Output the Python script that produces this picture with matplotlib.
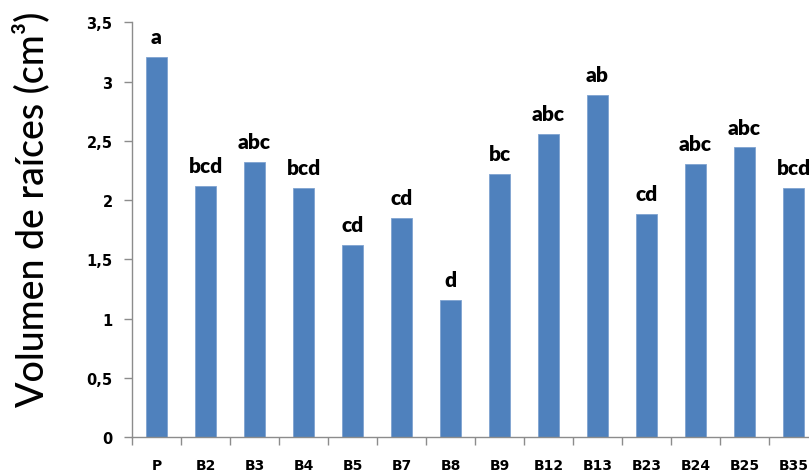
import matplotlib
matplotlib.use("Agg")
import matplotlib.pyplot as plt
import numpy as np

categories = ["P", "B2", "B3", "B4", "B5", "B7", "B8", "B9", "B12", "B13", "B23", "B24", "B25", "B35"]
values = [3.21, 2.12, 2.325, 2.105, 1.62, 1.85, 1.155, 2.22, 2.555, 2.886, 1.886, 2.305, 2.445, 2.105]
letters = ["a", "bcd", "abc", "bcd", "cd", "cd", "d", "bc", "abc", "ab", "cd", "abc", "abc", "bcd"]
yticks = [0, 0.5, 1, 1.5, 2, 2.5, 3, 3.5]
ytick_labels = ["0", "0,5", "1", "1,5", "2", "2,5", "3", "3,5"]

W, H = 809, 477
fig = plt.figure(figsize=(W / 100, H / 100), dpi=100)
x0, x1 = 132, 818
y0, y1 = 438.3, 23.3
ax = fig.add_axes([x0 / W, (H - y0) / H, (x1 - x0) / W, (y0 - y1) / H])

x = np.arange(len(categories))
ax.bar(x, values, width=0.43, color="#4F81BD", edgecolor="#7FA3D0", linewidth=0.6, zorder=2)

for xi, v, lab in zip(x, values, letters):
    ax.annotate(lab, (xi, v), xytext=(0, 10), textcoords="offset points",
                ha="center", va="baseline", fontsize=15, fontweight="heavy",
                family=["Lato", "DejaVu Sans"], color="black")

ax.set_xlim(-0.5, len(categories) - 0.5)
ax.set_ylim(0, 3.5)

for s in ["top", "right"]:
    ax.spines[s].set_visible(False)
for s in ["left", "bottom"]:
    ax.spines[s].set_color("#8C8C8C")
    ax.spines[s].set_linewidth(1.0)

ax.set_yticks(yticks)
ax.set_yticklabels(ytick_labels, fontsize=10.5, fontweight="bold", family="DejaVu Sans")
ax.tick_params(axis="y", direction="out", length=6, width=1, color="#8C8C8C", pad=8)

ax.set_xticks(x)
ax.set_xticklabels(categories, fontsize=10, fontweight="bold", family="DejaVu Sans")
ax.tick_params(axis="x", which="major", length=0, pad=15)
ax.set_xticks(np.arange(len(categories) + 1) - 0.5, minor=True)
ax.tick_params(axis="x", which="minor", direction="out", length=6, width=1, color="#8C8C8C")

fig.text(31 / W, 1 - 209 / H, "Volumen de raíces (cm³)", rotation=90, ha="center", va="center",
         fontsize=27, fontweight="medium", family=["Lato", "DejaVu Sans"], color="black")

fig.savefig("out.png", dpi=100)
